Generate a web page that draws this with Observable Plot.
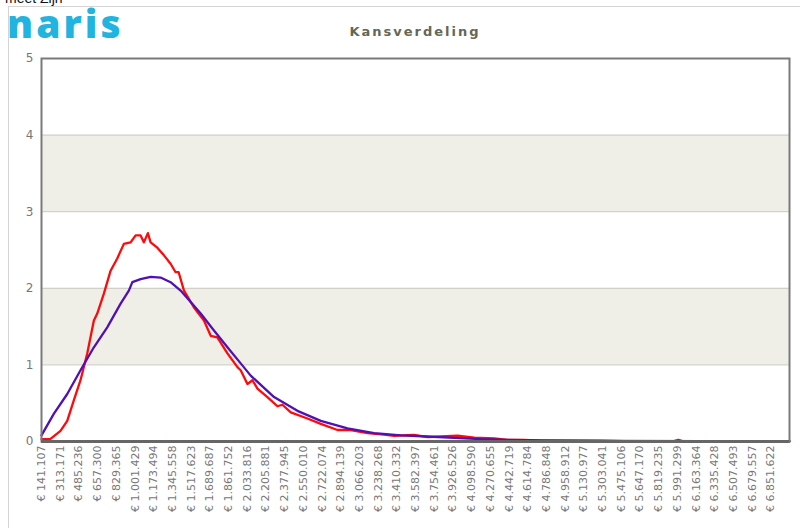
<!DOCTYPE html>
<html><head><meta charset="utf-8">
<script src="https://cdn.jsdelivr.net/npm/d3@7"></script>
<script src="https://cdn.jsdelivr.net/npm/@observablehq/plot@0.6"></script>
<style>
body{margin:0;background:#fff;width:800px;height:528px;overflow:hidden;position:relative;font-family:"DejaVu Sans",sans-serif}
#frameL{position:absolute;left:8px;top:6px;width:1px;height:522px;background:#d4d4d4}
#frameT{position:absolute;left:8px;top:6px;width:792px;height:1px;background:#d4d4d4}
#top{position:absolute;left:5px;top:-8px;font:14px "Liberation Sans",sans-serif;line-height:12px;color:#111;white-space:nowrap}
#logo{position:absolute;left:7px;top:8px;font:800 39px "Open Sans",sans-serif;color:#22b4e0;letter-spacing:3px;line-height:30px}
#title{position:absolute;left:0;width:830px;top:24px;text-align:center;font:bold 13px "DejaVu Sans",sans-serif;color:#666656;letter-spacing:2px}
#chart{position:absolute;left:0;top:0}
</style>
</head><body>
<div id="frameL"></div><div id="frameT"></div>
<div id="top">meet Zijn</div>
<div id="logo">naris</div>
<div id="title">Kansverdeling</div>
<div id="chart"></div>
<script>
// Tick labels on the x axis (euro amounts)
const xTicks = [141107, 313171, 485236, 657300, 829365, 1001429, 1173494, 1345558, 1517623, 1689687,
  1861752, 2033816, 2205881, 2377945, 2550010, 2722074, 2894139, 3066203, 3238268, 3410332,
  3582397, 3754461, 3926526, 4098590, 4270655, 4442719, 4614784, 4786848, 4958912, 5130977,
  5303041, 5475106, 5647170, 5819235, 5991299, 6163364, 6335428, 6507493, 6679557, 6851622];
const xMin = 141107;
const xMax = 7023687;
const yTicks = [0, 1, 2, 3, 4, 5];
const gridY = [1, 2, 3, 4];
const bandLow = [1, 3];
const bandHigh = [2, 4];

// Red series (empirical distribution)
const redX = [141107, 224000, 316000, 378000, 439000, 500000, 562000, 623000, 654000, 715000,
  777000, 838000, 899000, 961000, 1007000, 1053000, 1083000, 1120000, 1145000, 1207000,
  1268000, 1329000, 1375000, 1403000, 1452000, 1544000, 1636000, 1698000, 1759000, 1852000,
  1944000, 1974000, 2036000, 2082000, 2128000, 2220000, 2312000, 2358000, 2435000, 2588000,
  2711000, 2865000, 2987000, 3141000, 3294000, 3386000, 3570000, 3694000, 3816000, 3970000,
  4123000, 4307000, 4431000, 4584000, 4737000, 5290000, 5500000, 5960000, 6000000, 6040000, 7023687];
const redY = [0.03, 0.035, 0.14, 0.27, 0.54, 0.80, 1.15, 1.58, 1.67, 1.93,
  2.23, 2.39, 2.58, 2.60, 2.69, 2.69, 2.60, 2.72, 2.60, 2.53,
  2.43, 2.32, 2.21, 2.21, 1.97, 1.75, 1.58, 1.38, 1.36, 1.15,
  0.97, 0.93, 0.75, 0.80, 0.69, 0.58, 0.46, 0.48, 0.38, 0.30,
  0.23, 0.15, 0.15, 0.11, 0.09, 0.075, 0.087, 0.056, 0.065, 0.075,
  0.05, 0.04, 0.02, 0.02, 0.01, 0.01, 0.004, 0.004, 0.02, 0.004, 0.003];

// Blue series (fitted distribution)
const blueX = [141107, 254000, 378000, 500000, 623000, 746000, 869000, 945000, 977000, 1053000,
  1145000, 1237000, 1329000, 1421000, 1514000, 1606000, 1728000, 1852000, 1974000, 2066000,
  2281000, 2496000, 2711000, 2957000, 3202000, 3448000, 3694000, 3939000, 4185000, 4431000,
  4737000, 5290000, 6211000, 7023687];
const blueY = [0.08, 0.36, 0.62, 0.93, 1.23, 1.49, 1.80, 1.97, 2.08, 2.12,
  2.15, 2.14, 2.08, 1.97, 1.82, 1.67, 1.45, 1.23, 1.02, 0.86,
  0.58, 0.40, 0.27, 0.17, 0.11, 0.08, 0.065, 0.048, 0.03, 0.022,
  0.013, 0.007, 0.003, 0.002];

const red = redX.map((x, i) => ({x, y: redY[i]}));
const blue = blueX.map((x, i) => ({x, y: blueY[i]}));
const bands = bandLow.map((lo, i) => ({lo, hi: bandHigh[i]}));

const fmt = v => "€ " + d3.format(",")(v).replace(/,/g, ".");

const chart = Plot.plot({
  width: 800, height: 528,
  marginLeft: 41, marginRight: 11, marginTop: 58, marginBottom: 87,
  style: {fontFamily: "DejaVu Sans", fontSize: "11px", color: "#777", background: "transparent"},
  x: {type: "linear", domain: [xMin, xMax], label: null},
  y: {domain: [0, 5], label: null},
  marks: [
    Plot.rect(bands, {x1: () => xMin, x2: () => xMax, y1: "lo", y2: "hi", fill: "#efefe8"}),
    Plot.ruleY(gridY, {stroke: "#c8c8c0", strokeWidth: 1}),
    Plot.line(red, {x: "x", y: "y", stroke: "#ff0a0a", strokeWidth: 2.3}),
    Plot.line(blue, {x: "x", y: "y", stroke: "#5010b4", strokeWidth: 2.3}),
    Plot.frame({stroke: "#7a7a7a", strokeWidth: 2}),
    Plot.ruleY([0], {stroke: "#666", strokeWidth: 3}),
    Plot.axisY({ticks: yTicks, tickSize: 0, tickPadding: 8, tickFormat: d => d, fontSize: 12, label: null}),
    Plot.axisX({ticks: xTicks, tickSize: 0, tickPadding: 6, tickRotate: -90, tickFormat: fmt, dy: -2, label: null})
  ]
});
document.getElementById("chart").appendChild(chart);
</script>
</body></html>
